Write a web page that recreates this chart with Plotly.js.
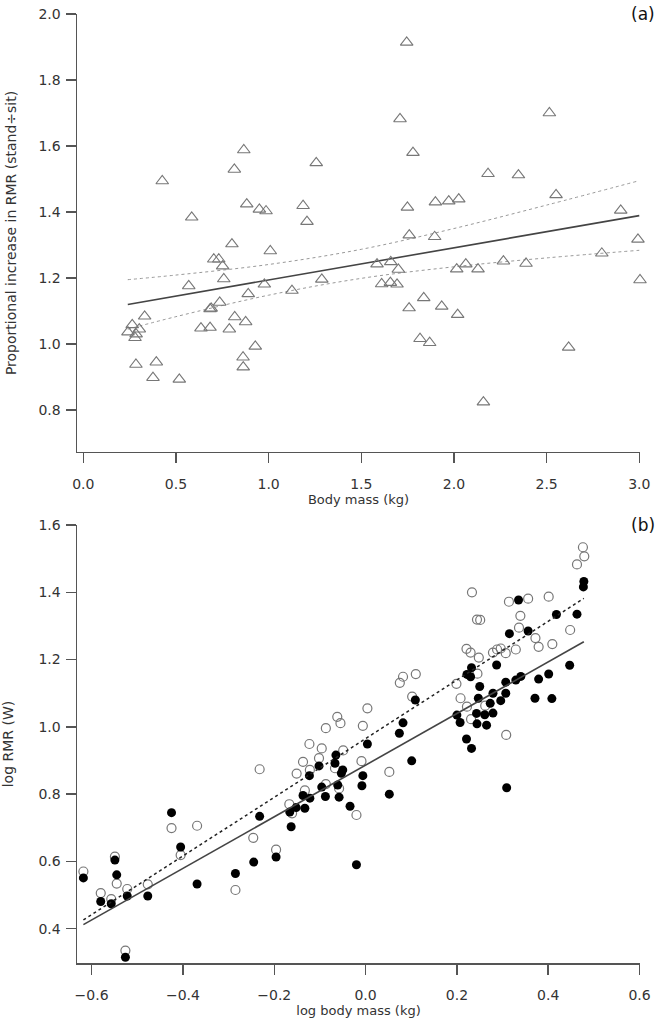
<!DOCTYPE html>
<html>
<head>
<meta charset="utf-8">
<script src="https://cdn.plot.ly/plotly-3.0.1.min.js"></script>
<style>
  body { margin: 0; background: #fff; }
  #graph { width: 666px; height: 1022px; }
</style>
</head>
<body>
<div id="graph"></div>
<script>
// ----- panel (a): stand/sit ratio vs body mass -----
const massA = [0.426, 0.585, 0.866, 0.815, 1.257, 0.882, 0.950, 0.986, 1.186, 1.207,
    0.802, 1.009, 0.704, 0.731, 0.752, 0.758, 0.569, 0.977, 1.287, 0.890,
    1.126, 0.736, 0.684, 0.690, 0.331, 0.817, 0.876, 0.264, 0.302, 0.241,
    0.279, 0.285, 0.635, 0.684, 0.788, 0.928, 0.284, 0.394, 0.862, 0.863,
    0.376, 0.518, 1.745, 1.709, 2.515, 1.779, 2.184, 2.348, 2.551, 1.749,
    1.900, 1.972, 2.026, 2.900, 1.759, 1.896, 2.993, 2.798, 1.585, 1.659,
    1.700, 2.015, 2.064, 2.130, 2.267, 2.389, 1.610, 1.657, 1.693, 3.004,
    1.837, 1.758, 1.934, 2.020, 1.817, 1.869, 2.619, 2.159];
const ratioA = [1.494, 1.384, 1.588, 1.529, 1.549, 1.424, 1.408, 1.403, 1.419, 1.371,
    1.303, 1.282, 1.257, 1.257, 1.236, 1.197, 1.176, 1.181, 1.196, 1.152,
    1.162, 1.126, 1.106, 1.108, 1.084, 1.082, 1.067, 1.058, 1.045, 1.036,
    1.019, 1.030, 1.048, 1.050, 1.045, 0.993, 0.938, 0.945, 0.960, 0.930,
    0.898, 0.893, 1.914, 1.682, 1.700, 1.580, 1.516, 1.512, 1.452, 1.414,
    1.430, 1.433, 1.439, 1.405, 1.330, 1.325, 1.317, 1.275, 1.242, 1.249,
    1.226, 1.227, 1.242, 1.227, 1.251, 1.244, 1.182, 1.186, 1.181, 1.194,
    1.140, 1.109, 1.114, 1.089, 1.016, 1.004, 0.990, 0.824];

const fitAX = [0.24, 3.0];
const fitAY = [1.120, 1.389];
const ciAX = [0.24, 0.5, 1.0, 1.5, 2.0, 2.5, 3.0];
const ciAUpper = [1.195, 1.209, 1.241, 1.287, 1.350, 1.421, 1.495];
const ciALower = [1.045, 1.083, 1.148, 1.199, 1.234, 1.261, 1.284];

// ----- panel (b): log RMR vs log body mass -----
const logMassOpen = [-0.618, -0.580, -0.557, -0.549, -0.545, -0.522, -0.526, -0.477, -0.425, -0.405,
    -0.369, -0.285, -0.246, -0.232, -0.196, -0.167, -0.161, -0.151, -0.137, -0.133,
    -0.122, -0.123, -0.102, -0.096, -0.087, -0.087, -0.067, -0.062, -0.055, -0.049,
    -0.058, 0.004, -0.006, -0.009, -0.020, 0.052, 0.075, 0.082, 0.110, 0.102,
    0.199, 0.208, 0.222, 0.231, 0.262, 0.245, 0.248, 0.221, 0.230, 0.279,
    0.288, 0.296, 0.307, 0.329, 0.233, 0.244, 0.251, 0.314, 0.356, 0.401,
    0.339, 0.336, 0.372, 0.379, 0.409, 0.448, 0.476, 0.479, 0.463, 0.308];
const logRmrOpen = [0.570, 0.506, 0.488, 0.614, 0.534, 0.518, 0.335, 0.532, 0.699, 0.619,
    0.706, 0.515, 0.670, 0.874, 0.635, 0.770, 0.743, 0.861, 0.896, 0.811,
    0.872, 0.949, 0.907, 0.936, 0.996, 0.830, 0.877, 1.030, 1.011, 0.930,
    0.817, 1.055, 1.003, 0.898, 0.738, 0.866, 1.131, 1.149, 1.157, 1.090,
    1.128, 1.085, 1.060, 1.023, 1.063, 1.158, 1.206, 1.232, 1.221, 1.221,
    1.230, 1.233, 1.219, 1.230, 1.400, 1.319, 1.318, 1.372, 1.381, 1.387,
    1.330, 1.295, 1.264, 1.238, 1.246, 1.288, 1.534, 1.507, 1.483, 0.976];

const logMassFilled = [-0.618, -0.580, -0.557, -0.549, -0.545, -0.522, -0.526, -0.477, -0.425, -0.405,
    -0.369, -0.285, -0.245, -0.232, -0.196, -0.166, -0.163, -0.152, -0.137, -0.133,
    -0.122, -0.123, -0.102, -0.096, -0.088, -0.067, -0.065, -0.061, -0.058, -0.053,
    -0.050, -0.034, 0.004, -0.006, -0.008, -0.020, 0.052, 0.074, 0.082, 0.101,
    0.109, 0.200, 0.207, 0.222, 0.230, 0.232, 0.250, 0.247, 0.221, 0.232,
    0.243, 0.261, 0.279, 0.244, 0.265, 0.273, 0.279, 0.287, 0.296, 0.307,
    0.307, 0.315, 0.335, 0.356, 0.329, 0.340, 0.379, 0.401, 0.371, 0.408,
    0.447, 0.418, 0.463, 0.478, 0.477, 0.309];
const logRmrFilled = [0.551, 0.481, 0.474, 0.604, 0.560, 0.497, 0.315, 0.497, 0.745, 0.643,
    0.533, 0.564, 0.598, 0.734, 0.613, 0.747, 0.703, 0.760, 0.796, 0.758,
    0.788, 0.855, 0.884, 0.821, 0.793, 0.892, 0.916, 0.827, 0.791, 0.862,
    0.872, 0.764, 0.949, 0.855, 0.825, 0.590, 0.800, 0.981, 1.012, 0.899,
    1.080, 1.035, 1.013, 1.156, 1.149, 1.176, 1.120, 1.085, 0.964, 0.936,
    1.040, 1.036, 1.041, 1.009, 1.005, 1.070, 1.100, 1.184, 1.078, 1.133,
    1.100, 1.277, 1.377, 1.285, 1.139, 1.150, 1.142, 1.157, 1.085, 1.084,
    1.183, 1.334, 1.335, 1.432, 1.416, 0.819];

const fitOpenX = [-0.618, 0.478];
const fitOpenY = [0.426, 1.382];
const fitFilledX = [-0.618, 0.478];
const fitFilledY = [0.412, 1.253];

const FONT = 'DejaVu Sans, Verdana, sans-serif';

function axisStyle(range, dtick, title, titleSize, standoff, labelGap) {
    return {
        range: range,
        dtick: dtick,
        tick0: 0,
        tickformat: '.1f',
        showgrid: false,
        zeroline: false,
        showline: true,
        linecolor: '#555',
        linewidth: 1.5,
        ticks: 'outside',
        ticklen: 10,
        tickwidth: 1.5,
        tickcolor: '#555',
        ticklabelstandoff: labelGap,
        tickfont: { family: FONT, size: 14, color: '#333' },
        title: { text: title, font: { family: FONT, size: titleSize, color: '#333' }, standoff: standoff }
    };
}

const data = [
    // (a)
    {
        x: ciAX, y: ciAUpper, xaxis: 'x', yaxis: 'y',
        mode: 'lines', type: 'scatter',
        line: { color: '#999', width: 1, dash: 'dot', shape: 'spline' }
    },
    {
        x: ciAX, y: ciALower, xaxis: 'x', yaxis: 'y',
        mode: 'lines', type: 'scatter',
        line: { color: '#999', width: 1, dash: 'dot', shape: 'spline' }
    },
    {
        x: fitAX, y: fitAY, xaxis: 'x', yaxis: 'y',
        mode: 'lines', type: 'scatter',
        line: { color: '#444', width: 1.6 }
    },
    {
        x: massA, y: ratioA, xaxis: 'x', yaxis: 'y',
        mode: 'markers', type: 'scatter', cliponaxis: false,
        marker: { symbol: 'triangle-up-open', size: 11, color: '#777', line: { width: 1.1 } }
    },
    // (b)
    {
        x: logMassOpen, y: logRmrOpen, xaxis: 'x2', yaxis: 'y2',
        mode: 'markers', type: 'scatter', cliponaxis: false,
        marker: { symbol: 'circle-open', size: 9, color: '#777', line: { width: 1.2 } }
    },
    {
        x: logMassFilled, y: logRmrFilled, xaxis: 'x2', yaxis: 'y2',
        mode: 'markers', type: 'scatter', cliponaxis: false,
        marker: { symbol: 'circle', size: 9, color: '#000' }
    },
    {
        x: fitOpenX, y: fitOpenY, xaxis: 'x2', yaxis: 'y2',
        mode: 'lines', type: 'scatter',
        line: { color: '#222', width: 1.5, dash: 'dot' }
    },
    {
        x: fitFilledX, y: fitFilledY, xaxis: 'x2', yaxis: 'y2',
        mode: 'lines', type: 'scatter',
        line: { color: '#444', width: 1.6 }
    }
];

const layout = {
    width: 666,
    height: 1022,
    margin: { l: 77, r: 26, t: 14, b: 59 },
    showlegend: false,
    paper_bgcolor: '#fff',
    plot_bgcolor: '#fff',
    xaxis: Object.assign(axisStyle([-0.034, 3.004], 0.5, 'Body mass (kg)', 13, 0, 9), { domain: [0, 1], anchor: 'y' }),
    yaxis: Object.assign(axisStyle([0.673, 2.0], 0.2, 'Proportional increase in RMR (stand÷sit)', 14, 18, 2), { domain: [0.5385, 1], anchor: 'x' }),
    xaxis2: Object.assign(axisStyle([-0.632, 0.601], 0.2, 'log body mass (kg)', 13, 0, 9), { domain: [0, 1], anchor: 'y2' }),
    yaxis2: Object.assign(axisStyle([0.298, 1.6], 0.2, 'log RMR (W)', 14, 22, 2), { domain: [0, 0.4615], anchor: 'x2' }),
    annotations: [
        { text: '(a)', xref: 'paper', yref: 'paper', x: 1.03, y: 1.0, xanchor: 'right', yanchor: 'middle',
          showarrow: false, font: { family: FONT, size: 17, color: '#111' } },
        { text: '(b)', xref: 'paper', yref: 'paper', x: 1.03, y: 0.4615, xanchor: 'right', yanchor: 'middle',
          showarrow: false, font: { family: FONT, size: 17, color: '#111' } }
    ]
};

Plotly.newPlot('graph', data, layout, { staticPlot: true });
</script>
</body>
</html>
